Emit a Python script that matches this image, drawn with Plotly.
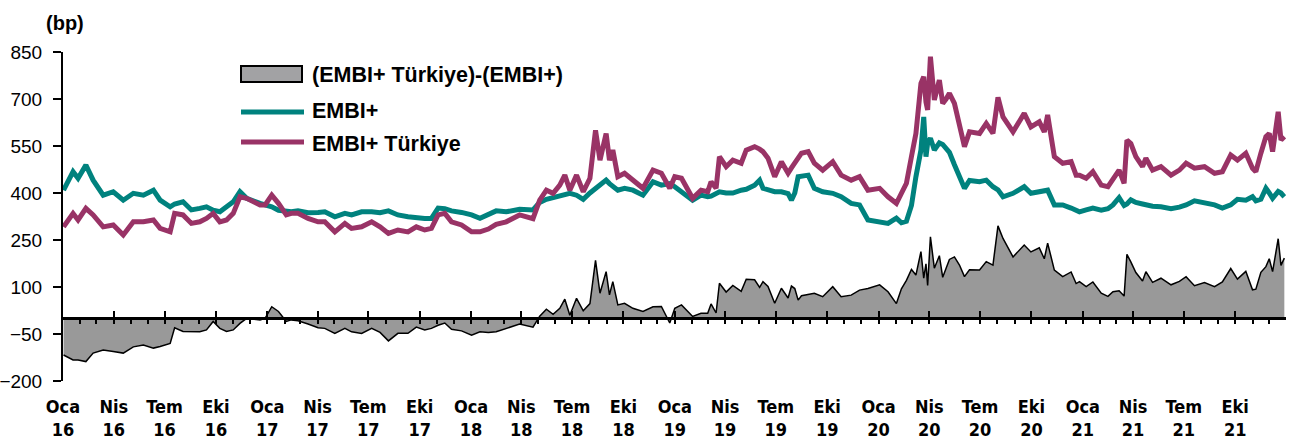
import pandas as pd
import plotly.graph_objects as go

# ---------------- data ----------------
# days elapsed since 2016-01-01 for each observation
day_offsets = [
    1, 18, 27, 41, 54, 72, 90, 108, 126, 144, 162, 174, 192, 200, 215, 230, 245, 257, 269, 281, 293, 305, 317, 329, 353,
    362, 374, 386, 400, 409, 421, 439, 457, 469, 487, 505, 517, 535, 553, 568, 583, 600, 618, 633, 648, 660, 672, 684, 696, 714, 732, 747,
    762, 776, 794, 818, 842, 854, 866, 878, 890, 899, 908, 920, 932, 944, 954, 962, 973, 979, 985, 994, 1006, 1021, 1039, 1057, 1072, 1087,
    1096, 1108, 1128, 1143, 1155, 1161, 1170, 1176, 1188, 1200, 1215, 1224, 1239, 1248, 1254, 1263, 1275, 1287, 1299, 1305,
    1311, 1317, 1323, 1335, 1346, 1361, 1379, 1394, 1412, 1427, 1442,
    1463, 1478, 1493, 1502, 1511, 1520, 1528, 1537, 1542, 1546, 1549, 1554, 1561, 1570, 1576, 1582, 1588, 1597, 1606, 1615,
    1624, 1642, 1654, 1666, 1675, 1684, 1702, 1722, 1734, 1749, 1758, 1764, 1776, 1791, 1806, 1815,
    1821, 1833, 1845, 1860, 1872, 1881, 1892, 1901, 1906, 1913, 1922, 1934, 1940, 1952, 1967, 1985, 2000, 2012, 2027, 2045,
    2063, 2077, 2092, 2104, 2119, 2131, 2137, 2146, 2155, 2161, 2167, 2177, 2182, 2188,
]

embi = [
    409, 468, 447, 489, 441, 393, 404, 377, 399, 393, 409, 377, 356, 365, 372, 346, 351, 356, 345, 340, 356, 372, 404, 383, 367,
    362, 356, 345, 340, 340, 343, 337, 338, 340, 324, 335, 330, 340, 340, 337, 343, 330, 324, 320, 319, 319, 352, 350, 343, 338, 330, 319,
    330, 343, 340, 348, 346, 370, 380, 386, 393, 396, 399, 393, 380, 400, 415, 425, 441, 430, 420, 409, 415, 409, 393, 436, 425, 430,
    420, 404, 377, 393, 388, 390, 398, 404, 400, 400, 409, 412, 425, 441, 415, 409, 404, 404, 398, 377,
    400, 452, 455, 457, 415, 404, 399, 388, 367, 362, 314,
    308, 303, 320, 305, 310, 360, 452, 537, 643, 516, 560, 575, 537, 560, 555, 542, 530, 490, 452, 415,
    440, 436, 441, 420, 410, 388, 399, 420, 399, 402, 405, 409, 362, 362, 352, 346,
    340, 346, 352, 345, 350, 362, 385, 360, 365, 378, 370, 365, 362, 358, 356, 350, 355, 362, 375, 370,
    362, 352, 362, 380, 377, 388, 375, 380, 415, 400, 383, 405, 400, 388,
]

embi_turkiye = [
    292, 335, 314, 351, 330, 292, 298, 266, 308, 308, 314, 287, 276, 335, 330, 303, 308, 319, 335, 308, 314, 335, 388, 383, 362,
    362, 393, 367, 330, 335, 335, 319, 308, 308, 276, 303, 287, 292, 308, 292, 271, 282, 276, 292, 282, 287, 330, 335, 308, 298, 276, 276,
    285, 300, 308, 330, 318, 377, 409, 399, 425, 457, 409, 457, 404, 447, 600, 505, 590, 505, 537, 452, 463, 441, 415, 473, 463, 415,
    452, 447, 383, 409, 404, 436, 415, 516, 484, 505, 495, 537, 548, 540, 532, 511, 452, 500, 463, 480,
    495, 510, 527, 532, 495, 473, 500, 457, 441, 452, 409,
    415, 388, 367, 399, 431, 516, 590, 750, 771, 690, 665, 835, 697, 760, 686, 700, 718, 686, 622, 548,
    595, 590, 622, 590, 705, 643, 595, 654, 611, 627, 595, 649, 516, 495, 500, 457,
    457, 447, 468, 425, 420, 447, 473, 431, 569, 558, 516, 484, 511, 473, 484, 457, 473, 495, 479, 484,
    463, 468, 521, 505, 527, 479, 468, 527, 580, 590, 532, 659, 569, 580,
]

tick_months = ["Oca", "Nis", "Tem", "Eki"]
tick_years = ["16", "17", "18", "19", "20", "21"]
y_ticks = [-200, -50, 100, 250, 400, 550, 700, 850]

name_spread = "(EMBI+ Türkiye)-(EMBI+)"
name_embi = "EMBI+"
name_tr = "EMBI+ Türkiye"

# ---------------- derived ----------------
dates = pd.Timestamp("2016-01-01") + pd.to_timedelta(day_offsets, unit="D")
spread = [t - e for t, e in zip(embi_turkiye, embi)]
tick_dates = pd.date_range("2016-01-01", periods=len(tick_years) * 4, freq="QS")
tick_text = [f"{m}<br>{y}" for y in tick_years for m in tick_months]

TEAL = "#00827E"
MAGENTA = "#993366"
GRAY = "#999999"
CONDENSED = "DejaVu Sans Condensed, Liberation Sans Narrow, sans-serif"
REG = "Liberation Sans, Arial, sans-serif"

W, H = 1294, 439
L, R, T, B = 63, 8, 52, 58
PW, PH = W - L - R, H - T - B
YMIN, YMAX = -200, 850


def px_x(px):
    return (px - L) / PW


def px_y(py):
    return (H - B - py) / PH


fig = go.Figure()
fig.add_trace(go.Scatter(x=dates, y=spread, mode="lines", fill="tozeroy",
                         fillcolor=GRAY, line=dict(color="black", width=1.5),
                         showlegend=False, hoverinfo="skip"))
fig.add_trace(go.Scatter(x=dates, y=embi, mode="lines",
                         line=dict(color=TEAL, width=5), showlegend=False))
fig.add_trace(go.Scatter(x=dates, y=embi_turkiye, mode="lines",
                         line=dict(color=MAGENTA, width=5), showlegend=False))
# invisible trace so that the zero-line axis is rendered
fig.add_trace(go.Scatter(x=dates[:1], y=[0], xaxis="x2", mode="markers",
                         marker=dict(opacity=0), showlegend=False, hoverinfo="skip"))

x_range = ["2016-01-01", "2021-12-31"]

fig.update_layout(
    width=W, height=H,
    margin=dict(l=L, r=R, t=T, b=B, pad=0),
    paper_bgcolor="white", plot_bgcolor="white",
    showlegend=False,
    xaxis=dict(type="date", range=x_range, tickvals=tick_dates, ticktext=tick_text,
               showline=False, showgrid=False, zeroline=False, automargin=False,
               ticks="outside", ticklen=0, ticklabelstandoff=9,
               tickfont=dict(family=CONDENSED, size=18, color="black", weight="bold")),
    xaxis2=dict(type="date", range=x_range, overlaying="x", anchor="free",
                position=(0 - YMIN) / (YMAX - YMIN), automargin=False,
                showticklabels=False, showgrid=False, zeroline=False,
                showline=True, linecolor="black", linewidth=2.5,
                tick0="2016-01-01", dtick="M3", ticks="inside", ticklen=7,
                tickwidth=2, tickcolor="black",
                minor=dict(ticks="outside", ticklen=4, tickwidth=1.5,
                           tickcolor="black", dtick="M1", tick0="2016-01-01")),
    yaxis=dict(range=[YMIN, YMAX], tickvals=y_ticks, showgrid=False, zeroline=False,
               showline=True, linecolor="black", linewidth=2, automargin=False,
               ticks="outside", ticklen=8, tickwidth=2, tickcolor="black",
               ticklabelstandoff=7,
               tickfont=dict(family=REG, size=19, color="black")),
)

# legend drawn by hand
fig.add_shape(type="rect", xref="paper", yref="paper",
              x0=px_x(241), x1=px_x(302), y0=px_y(82), y1=px_y(66),
              fillcolor="#a2a2a4", line=dict(color="black", width=2))
fig.add_shape(type="line", xref="paper", yref="paper",
              x0=px_x(241), x1=px_x(304), y0=px_y(112), y1=px_y(112),
              line=dict(color=TEAL, width=5))
fig.add_shape(type="line", xref="paper", yref="paper",
              x0=px_x(241), x1=px_x(304), y0=px_y(142), y1=px_y(142),
              line=dict(color=MAGENTA, width=5))
for txt, py in [(name_spread, 75), (name_embi, 111), (name_tr, 144)]:
    fig.add_annotation(text=f"<b>{txt}</b>", xref="paper", yref="paper",
                       x=px_x(310), y=px_y(py), xanchor="left", yanchor="middle",
                       showarrow=False, font=dict(family=REG, size=21.5, color="black"))

fig.add_annotation(text="<b>(bp)</b>", xref="paper", yref="paper",
                   x=px_x(44), y=px_y(23), xanchor="left", yanchor="middle",
                   showarrow=False, font=dict(family=REG, size=20, color="black"))

fig.write_html("out.html", config={"displayModeBar": False},
               post_script="document.body.style.margin='0';")
